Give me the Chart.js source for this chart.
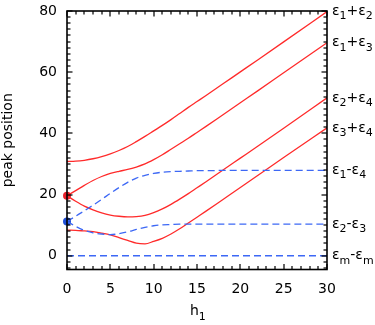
<!DOCTYPE html>
<html>
<head>
<meta charset="utf-8">
<script src="https://cdn.jsdelivr.net/npm/chart.js@4.4.0/dist/chart.umd.min.js"></script>
<style>
    html, body { margin: 0; padding: 0; background: #fff; }
</style>
</head>
<body>
<canvas id="chartPicos" width="375" height="325"></canvas>
<script>
// campo h1 y posiciones de los picos
const h1 = [0, 1, 2, 3, 4, 5, 6, 7, 8, 9, 10, 11, 12, 13, 14, 15, 16, 18, 20, 22, 25, 30]

const e1MasE2 = [30.8, 30.9, 31.2, 31.7, 32.4, 33.3, 34.4, 35.7, 37.3, 39.0, 40.8, 42.6, 44.5, 46.5, 48.5, 50.4, 52.3, 56.2, 60.1, 64.0, 69.9, 79.8]
const e1MasE3 = [19.6, 21.3, 23.0, 24.6, 25.9, 26.9, 27.6, 28.2, 29.0, 30.0, 31.4, 33.0, 34.8, 36.6, 38.4, 40.3, 42.2, 46.1, 50.0, 53.9, 59.8, 69.6]
const e2MasE4 = [19.6, 17.8, 16.2, 15.0, 14.0, 13.3, 12.9, 12.7, 12.8, 13.2, 14.1, 15.3, 16.8, 18.5, 20.3, 22.2, 24.1, 28.0, 31.9, 35.8, 41.7, 51.6]
const e3MasE4 = [8.4, 8.3, 8.1, 7.9, 7.4, 6.8, 5.9, 5.0, 4.1, 3.9, 4.7, 5.7, 7.1, 8.8, 10.7, 12.6, 14.5, 18.4, 22.3, 26.2, 32.1, 41.8]
const e1MenosE4 = [11.2, 12.9, 14.7, 16.5, 18.4, 20.4, 22.3, 24.0, 25.4, 26.3, 26.9, 27.3, 27.5, 27.6, 27.7, 27.8, 27.8, 27.9, 27.9, 27.9, 27.9, 27.9]
const e2MenosE3 = [11.2, 9.6, 8.3, 7.5, 7.1, 6.9, 7.2, 7.8, 8.6, 9.3, 9.8, 10.1, 10.2, 10.3, 10.3, 10.3, 10.3, 10.3, 10.3, 10.3, 10.3, 10.3]
const emMenosEm = [0, 0, 0, 0, 0, 0, 0, 0, 0, 0, 0, 0, 0, 0, 0, 0, 0, 0, 0, 0, 0, 0]

// puntos en h1 = 0
const puntoRojo = 19.6
const puntoAzul = 11.2

const xTicks = [0, 5, 10, 15, 20, 25, 30]
const yTicks = [0, 20, 40, 60, 80]

// etiquetas de la derecha, "_x" = subindice
const etiquetas = ['ε_1+ε_2', 'ε_1+ε_3', 'ε_2+ε_4', 'ε_3+ε_4', 'ε_1-ε_4', 'ε_2-ε_3', 'ε_m-ε_m']
const seriesEtiquetas = [e1MasE2, e1MasE3, e2MasE4, e3MasE4, e1MenosE4, e2MenosE3, emMenosEm]

const ROJO = '#ff2b2b'
const AZUL = '#3d68f5'
const FUENTE = '"DejaVu Sans", sans-serif'

const linea = (valores, color, dash) => ({
    data : h1.map((x, i) => ({ x : x, y : valores[i] })),
    borderColor : color,
    borderWidth : 1.3,
    borderDash : dash,
    pointRadius : 0,
    cubicInterpolationMode : 'monotone',
    fill : false
})

const punto = (valor, color) => ({
    data : [{ x : 0, y : valor }],
    showLine : false,
    pointRadius : 4,
    pointBackgroundColor : color,
    pointBorderWidth : 0,
    clip : false
})

// texto con subindices
const textoSub = (ctx, texto, x, y) => {
    const partes = texto.match(/_.|[^_]/g)
    partes.forEach(p => {
        if (p[0] === '_') {
            ctx.font = '11px ' + FUENTE
            ctx.fillText(p[1], x, y + 5)
            x += ctx.measureText(p[1]).width
        } else {
            ctx.font = '14px ' + FUENTE
            ctx.fillText(p, x, y)
            x += ctx.measureText(p).width
        }
    })
    return x
}

const ejes = {
    id : 'ejes',
    afterDraw(chart) {
        const ctx = chart.ctx
        const a = chart.chartArea
        const sx = chart.scales.x
        const sy = chart.scales.y
        ctx.save()
        ctx.strokeStyle = '#000'
        ctx.setLineDash([])
        ctx.lineWidth = 1.6
        ctx.strokeRect(a.left, a.top, a.right - a.left, a.bottom - a.top)

        // marcas hacia dentro
        ctx.fillStyle = '#000'
        for (let v = 0; v <= 30; v++) {
            const px = Math.round(sx.getPixelForValue(v))
            const l = v % 5 === 0 ? 5.5 : 3.5
            ctx.fillRect(px - 0.6, a.bottom - l, 1.2, l)
            ctx.fillRect(px - 0.6, a.top, 1.2, l)
        }
        for (let v = -4; v <= 80; v += 2) {
            const py = Math.round(sy.getPixelForValue(v))
            const l = v % 20 === 0 ? 5.5 : 3.5
            ctx.fillRect(a.left, py - 0.6, l, 1.2)
            ctx.fillRect(a.right - l, py - 0.6, l, 1.2)
        }

        ctx.textBaseline = 'middle'
        ctx.textAlign = 'left'
        etiquetas.forEach((t, i) => {
            const serie = seriesEtiquetas[i]
            textoSub(ctx, t, a.right + 5, sy.getPixelForValue(serie[serie.length - 1]))
        })

        ctx.textBaseline = 'alphabetic'
        textoSub(ctx, 'h_1', (a.left + a.right) / 2 - 7, 315)

        ctx.translate(12, (a.top + a.bottom) / 2)
        ctx.rotate(-Math.PI / 2)
        ctx.textAlign = 'center'
        ctx.font = '14px ' + FUENTE
        ctx.fillText('peak position', 0, 0)
        ctx.restore()
    }
}

const canvas = document.getElementById('chartPicos')
const context = canvas.getContext('2d')

const chartPicos = new Chart(context, {
    type : 'line',
    data : {
        datasets : [
            linea(emMenosEm, AZUL, [7, 4]),
            linea(e2MenosE3, AZUL, [7, 4]),
            linea(e1MenosE4, AZUL, [7, 4]),
            linea(e3MasE4, ROJO, []),
            linea(e2MasE4, ROJO, []),
            linea(e1MasE3, ROJO, []),
            linea(e1MasE2, ROJO, []),
            punto(puntoRojo, '#e8202a'),
            punto(puntoAzul, '#1f4fd8')
        ]
    },
    options : {
        responsive : false,
        animation : false,
        devicePixelRatio : 1,
        layout : { padding : { left : 0, right : 48, top : 11, bottom : 0 } },
        plugins : { legend : { display : false }, tooltip : { enabled : false } },
        scales : {
            x : {
                type : 'linear',
                min : 0,
                max : 30,
                grid : { display : false, drawTicks : false },
                border : { display : false },
                ticks : { color : '#000', font : { size : 14, family : FUENTE }, padding : 11 },
                afterBuildTicks : s => { s.ticks = xTicks.map(v => ({ value : v })) },
                afterFit : s => { s.height = 55.5; s.paddingLeft = 0; s.paddingRight = 0 }
            },
            y : {
                type : 'linear',
                min : -4.5,
                max : 80,
                grid : { display : false, drawTicks : false },
                border : { display : false },
                ticks : { color : '#000', font : { size : 14, family : FUENTE }, padding : 10 },
                afterBuildTicks : s => { s.ticks = yTicks.map(v => ({ value : v })) },
                afterFit : s => { s.width = 67; s.paddingTop = 0; s.paddingBottom = 0 }
            }
        }
    },
    plugins : [ejes]
})
</script>
</body>
</html>
